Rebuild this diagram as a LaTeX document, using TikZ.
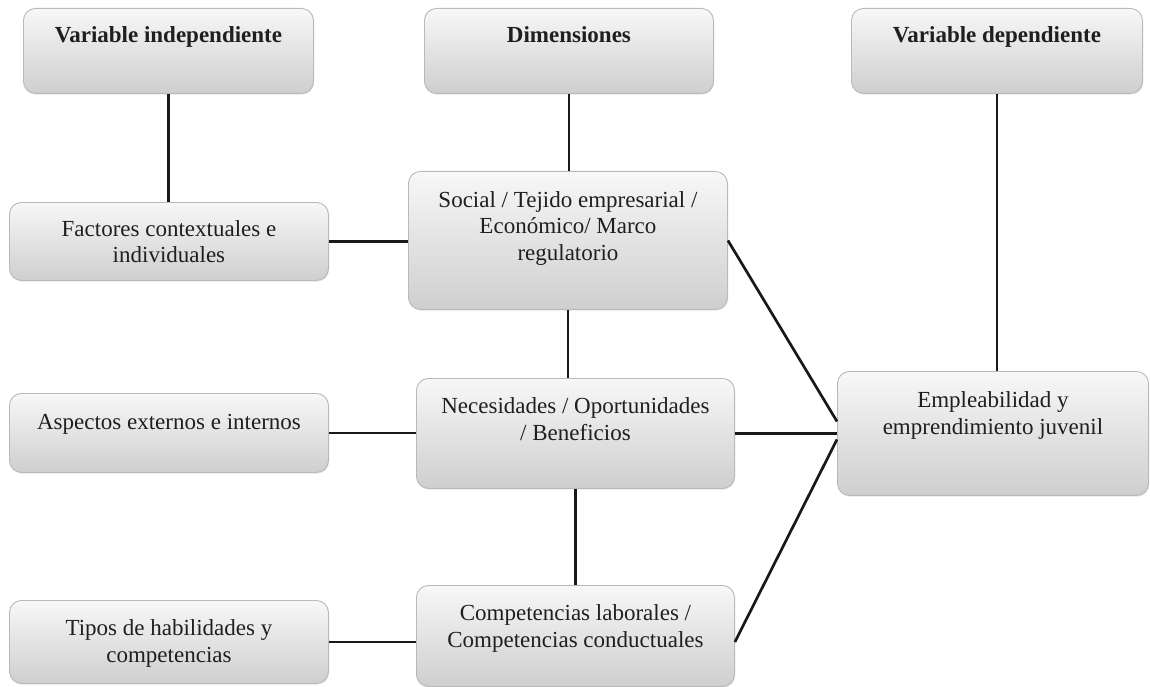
\documentclass[tikz,border=0pt]{standalone}
\usepackage{fontspec}
\setmainfont{Liberation Serif}
\usetikzlibrary{shadows}
\tikzset{
  box/.style={draw=gray!55, line width=0.9pt, rounded corners=12pt,
    top color=white!97!black, bottom color=white!81!black,
    inner sep=0pt, anchor=north west,
    drop shadow={shadow xshift=0.8pt, shadow yshift=-1.2pt, opacity=0.2}},
  lbl/.style={anchor=base, align=center, inner sep=0pt, text=black!88,
    font=\fontsize{23}{26.5}\selectfont},
  link/.style={line width=2.7pt, black!90}
}
\begin{document}
\begin{tikzpicture}[x=1pt,y=-1pt]
\useasboundingbox (0,0) rectangle (1150,687);
% boxes
\node[box, minimum width=290pt, minimum height=85pt] (VI) at (23,8) {};
\node[box, minimum width=289pt, minimum height=85pt] (DIM) at (424,8) {};
\node[box, minimum width=291pt, minimum height=85pt] (VD) at (851,8) {};
\node[box, minimum width=319pt, minimum height=78pt] (FAC) at (9,202) {};
\node[box, minimum width=319pt, minimum height=138pt] (SOC) at (408,171) {};
\node[box, minimum width=319pt, minimum height=79pt] (ASP) at (9,393) {};
\node[box, minimum width=318pt, minimum height=110pt] (NEC) at (416,378) {};
\node[box, minimum width=311pt, minimum height=124pt] (EMP) at (837,371) {};
\node[box, minimum width=319pt, minimum height=83pt] (TIP) at (9,600) {};
\node[box, minimum width=318pt, minimum height=101pt] (COM) at (416,585) {};
% texts (base anchor = baseline of last line)
\node[lbl] (VIt) at ([yshift=-35pt]VI.north) {\textbf{Variable independiente}};
\node[lbl] (DIMt) at ([yshift=-35pt]DIM.north) {\textbf{Dimensiones}};
\node[lbl] (VDt) at ([yshift=-35pt]VD.north) {\textbf{Variable dependiente}};
\node[lbl] (FACt) at ([yshift=-60.5pt]FAC.north) {Factores contextuales e\\individuales};
\node[lbl] (SOCt) at ([yshift=-89pt]SOC.north) {Social / Tejido empresarial /\\Económico/ Marco\\regulatorio};
\node[lbl] (ASPt) at ([yshift=-36pt]ASP.north) {Aspectos externos e internos};
\node[lbl] (NECt) at ([yshift=-62pt]NEC.north) {Necesidades / Oportunidades\\/ Beneficios};
\node[lbl] (EMPt) at ([yshift=-63pt]EMP.north) {Empleabilidad y\\emprendimiento juvenil};
\node[lbl] (TIPt) at ([yshift=-62pt]TIP.north) {Tipos de habilidades y\\competencias};
\node[lbl] (COMt) at ([yshift=-62pt]COM.north) {Competencias laborales /\\Competencias conductuales};
% connectors
\draw[link] (VI.south) -- (VI.south |- FAC.north);
\draw[link] (DIM.south) -- (DIM.south |- SOC.north);
\draw[link] (VD.south) -- (VD.south |- EMP.north);
\draw[link] (FAC.east) -- (FAC.east -| SOC.west);
\draw[link] (SOC.south) -- (SOC.south |- NEC.north);
\draw[link] (ASP.east) -- (ASP.east -| NEC.west);
\draw[link] (NEC.south) -- (NEC.south |- COM.north);
\draw[link] (TIP.east) -- (TIP.east -| COM.west);
\draw[link] (SOC.east) -- ([yshift=12pt]EMP.west);
\draw[link] (NEC.east) -- (EMP.west);
\draw[link] ([yshift=-6pt]COM.east) -- ([yshift=-6pt]EMP.west);
\end{tikzpicture}
\end{document}
